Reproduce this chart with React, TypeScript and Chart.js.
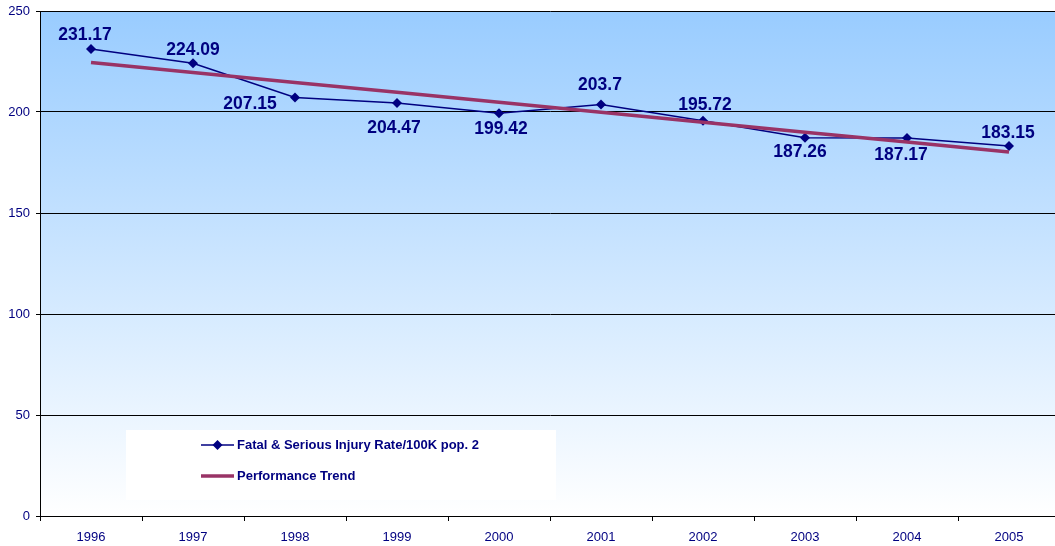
import React, { useEffect, useRef } from 'react';
import { Chart, registerables } from 'chart.js';

Chart.register(...registerables);

const years = ['1996', '1997', '1998', '1999', '2000', '2001', '2002', '2003', '2004', '2005'];
const injuryRate = [231.17, 224.09, 207.15, 204.47, 199.42, 203.7, 195.72, 187.26, 187.17, 183.15];
const trendValues = [224.48, 219.56, 214.64, 209.72, 204.79, 199.87, 194.95, 190.03, 185.11, 180.19];
const yTicks = [0, 50, 100, 150, 200, 250];
const seriesNames = ['Fatal & Serious Injury Rate/100K pop. 2', 'Performance Trend'];
// label offsets (dx, dy) relative to each point
const labelOffsets: [number, number][] = [
  [-6, -14], [0, -13], [-45, 7], [-3, 25], [2, 16],
  [-1, -19], [2, -15], [-5, 14], [-6, 17], [-1, -13],
];

const NAVY = '#000080';
const TREND = '#993366';
const FONT = '"Liberation Sans", Arial, sans-serif';

const bgPlugin = {
  id: 'bgGradient',
  beforeDraw(chart: any) {
    const { ctx, chartArea } = chart;
    if (!chartArea) return;
    const g = ctx.createLinearGradient(0, chartArea.top, 0, chartArea.bottom);
    g.addColorStop(0, '#99CCFF');
    g.addColorStop(1, '#FFFFFF');
    ctx.save();
    ctx.fillStyle = g;
    ctx.fillRect(chartArea.left, chartArea.top, chartArea.right - chartArea.left, chartArea.bottom - chartArea.top);
    ctx.restore();
  },
};

const labelPlugin = {
  id: 'valueLabels',
  afterDatasetsDraw(chart: any) {
    const ctx = chart.ctx;
    const metaIndex = chart.data.datasets.findIndex((d: any) => d.label === seriesNames[0]);
    const meta = chart.getDatasetMeta(metaIndex);
    ctx.save();
    ctx.font = `bold 17.5px ${FONT}`;
    ctx.fillStyle = NAVY;
    ctx.textAlign = 'center';
    ctx.textBaseline = 'middle';
    meta.data.forEach((pt: any, i: number) => {
      const [dx, dy] = labelOffsets[i];
      ctx.fillText(String(injuryRate[i]), pt.x + dx, pt.y + dy);
    });
    ctx.restore();
  },
};

const legendPlugin = {
  id: 'customLegend',
  afterDraw(chart: any) {
    const ctx = chart.ctx;
    const left = 126, top = 430, w = 430, h = 70;
    ctx.save();
    ctx.fillStyle = '#FFFFFF';
    ctx.fillRect(left, top, w, h);
    const y1 = 445, y2 = 476;
    ctx.strokeStyle = NAVY;
    ctx.lineWidth = 1.5;
    ctx.beginPath();
    ctx.moveTo(201, y1);
    ctx.lineTo(234, y1);
    ctx.stroke();
    ctx.fillStyle = NAVY;
    ctx.beginPath();
    ctx.moveTo(217.5, y1 - 5);
    ctx.lineTo(222.5, y1);
    ctx.lineTo(217.5, y1 + 5);
    ctx.lineTo(212.5, y1);
    ctx.closePath();
    ctx.fill();
    ctx.strokeStyle = TREND;
    ctx.lineWidth = 3.5;
    ctx.beginPath();
    ctx.moveTo(201, y2);
    ctx.lineTo(234, y2);
    ctx.stroke();
    ctx.font = `bold 13px ${FONT}`;
    ctx.fillStyle = NAVY;
    ctx.textAlign = 'left';
    ctx.textBaseline = 'middle';
    ctx.fillText(seriesNames[0], 237, y1);
    ctx.fillText(seriesNames[1], 237, y2);
    ctx.restore();
  },
};

export default function App() {
  const ref = useRef<HTMLCanvasElement | null>(null);
  useEffect(() => {
    document.body.style.margin = '0';
    if (!ref.current) return;
    const chart = new Chart(ref.current, {
      type: 'line',
      data: {
        labels: years,
        datasets: [
          {
            label: seriesNames[0],
            data: injuryRate,
            borderColor: NAVY,
            backgroundColor: NAVY,
            borderWidth: 1.5,
            pointStyle: 'rectRot',
            pointRadius: 5,
            pointBackgroundColor: NAVY,
            pointBorderColor: NAVY,
            pointBorderWidth: 0,
            tension: 0,
            order: 1,
          },
          {
            label: seriesNames[1],
            data: trendValues,
            borderColor: TREND,
            backgroundColor: TREND,
            borderWidth: 3.5,
            pointRadius: 0,
            tension: 0,
            order: 0,
          },
        ],
      },
      options: {
        responsive: false,
        animation: false,
        layout: { autoPadding: false, padding: { top: 11, right: 0, left: 0, bottom: 0 } },
        plugins: {
          legend: { display: false },
          tooltip: { enabled: false },
        },
        scales: {
          x: {
            offset: true,
            grid: {
              offset: true,
              drawOnChartArea: false,
              drawTicks: true,
              tickLength: 5,
              color: '#000000',
            },
            border: { display: true, color: '#000000', width: 1 },
            ticks: {
              color: NAVY,
              font: { family: FONT, size: 13 },
              padding: 9,
              maxRotation: 0,
            },
            afterFit(scale: any) {
              scale.height = 30;
              scale.paddingLeft = 0;
              scale.paddingRight = 0;
            },
          },
          y: {
            min: 0,
            max: 250,
            afterBuildTicks(scale: any) {
              scale.ticks = yTicks.map((v) => ({ value: v }));
            },
            grid: {
              color: '#000000',
              tickLength: 4,
              lineWidth: 1,
            },
            border: { display: true, color: '#000000', width: 1 },
            ticks: {
              color: NAVY,
              font: { family: FONT, size: 13 },
              padding: 6,
            },
            afterFit(scale: any) {
              scale.width = 40;
              scale.paddingTop = 0;
              scale.paddingBottom = 0;
            },
          },
        },
      },
      plugins: [bgPlugin, labelPlugin, legendPlugin],
    });
    return () => chart.destroy();
  }, []);
  return (
    <div style={{ position: 'absolute', left: 0, top: 0, width: 1055, height: 546, overflow: 'hidden' }}>
      <canvas ref={ref} width={1060} height={546} style={{ width: 1060, height: 546, display: 'block' }} />
    </div>
  );
}
